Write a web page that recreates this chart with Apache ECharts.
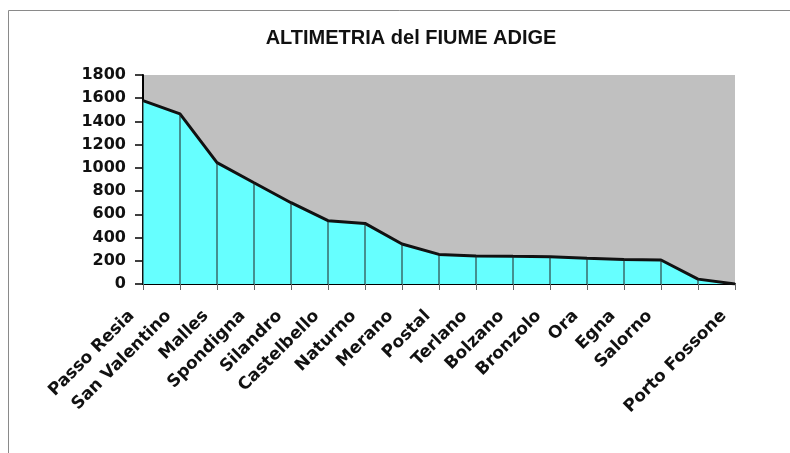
<!DOCTYPE html>
<html>
<head>
<meta charset="utf-8">
<script src="https://cdn.jsdelivr.net/npm/echarts@6/dist/echarts.min.js"></script>
<style>
html,body{margin:0;padding:0;background:#fff;}
#chart{width:790px;height:453px;}
</style>
</head>
<body>
<div id="chart"></div>
<script>
var categories = ['Passo Resia','San Valentino','Malles','Spondigna','Silandro','Castelbello','Naturno','Merano','Postal','Terlano','Bolzano','Bronzolo','Ora','Egna','Salorno','','Porto Fossone'];
var altitudes = [1580, 1465, 1045, 872, 700, 545, 522, 345, 255, 242, 238, 235, 222, 212, 207, 42, 0];
var yTicks = {min: 0, max: 1800, interval: 200};

var chart = echarts.init(document.getElementById('chart'), null, {renderer: 'canvas'});
var fontY = 'DejaVu Sans';
chart.setOption({
  animation: false,
  backgroundColor: '#ffffff',
  title: {
    text: 'ALTIMETRIA del FIUME ADIGE',
    left: 406, top: 23, textAlign: 'center',
    textStyle: {fontFamily: 'Liberation Sans', fontWeight: 'bold', fontSize: 20, color: '#111'}
  },
  graphic: [{
    type: 'rect', silent: true, z: 100,
    shape: {x: 8.5, y: 10.5, width: 900, height: 900},
    style: {fill: null, stroke: '#8a8a8a', lineWidth: 1}
  }],
  grid: {left: 143, right: 55, top: 75, bottom: 169, show: true, backgroundColor: '#c0c0c0', borderWidth: 0},
  xAxis: {
    type: 'category', data: categories, boundaryGap: false,
    axisLine: {lineStyle: {color: '#000', width: 2}},
    axisTick: {show: true, length: 6, interval: 0, lineStyle: {color: '#666', width: 1}},
    axisLabel: {rotate: 45, interval: 0, margin: 18, padding: [0, 16, 0, 0], fontFamily: fontY, fontWeight: 'bold', fontSize: 17, color: '#111'},
    splitLine: {show: false}
  },
  yAxis: {
    type: 'value', min: yTicks.min, max: yTicks.max, interval: yTicks.interval,
    axisLine: {show: true, lineStyle: {color: '#000', width: 2}},
    axisTick: {show: true, length: 8, lineStyle: {color: '#000', width: 1.5}},
    axisLabel: {margin: 17, fontFamily: fontY, fontWeight: 'bold', fontSize: 16, color: '#111',
      formatter: function (v) { return String(v); }},
    splitLine: {show: false}
  },
  series: [{
    type: 'line', data: altitudes, symbol: 'none', z: 2,
    lineStyle: {color: '#111', width: 3},
    areaStyle: {color: '#66ffff', opacity: 1}
  }, {
    type: 'bar', data: altitudes, barWidth: 1, z: 3, barMinHeight: 0,
    itemStyle: {color: '#222'}
  }]
});
</script>
</body>
</html>
